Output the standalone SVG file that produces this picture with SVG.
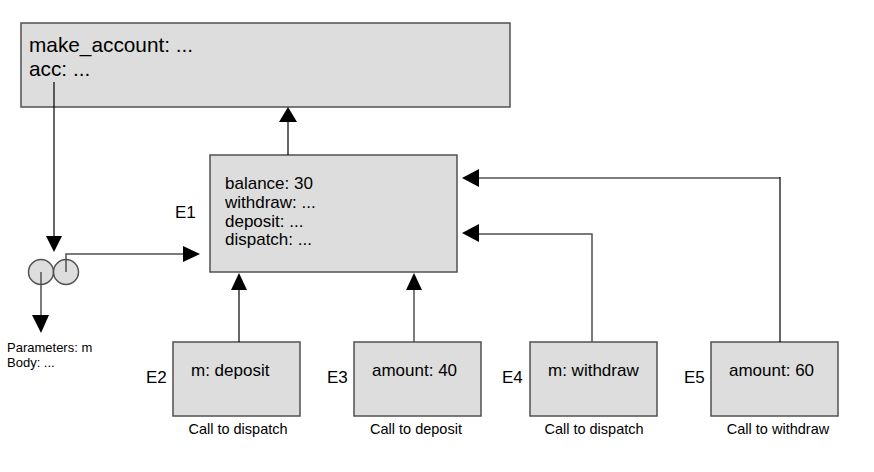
<svg xmlns="http://www.w3.org/2000/svg" width="874" height="472" viewBox="0 0 874 472">
<defs>
<style>
text{font-family:"Liberation Sans",Arial,sans-serif;fill:#000}
.box{fill:#dddddd;stroke:#505050;stroke-width:1.5}
.ln{fill:none;stroke:#000;stroke-width:1.2}
.lg{fill:none;stroke:#505050;stroke-width:1.5}
.ah{fill:#000;stroke:none}
.big{font-size:20.8px}
.mid{font-size:17px}
.sm{font-size:14.5px}
.xs{font-size:13px}
</style>
</defs>
<rect width="874" height="472" fill="#fff"/>
<g id="global">
<rect class="box" x="21" y="23" width="489" height="84"/>
<text class="big" x="29" y="52">make_account: ...</text>
<text class="big" x="29" y="76">acc: ...</text>
</g>
<g id="E1">
<rect class="box" x="210" y="155" width="247" height="117"/>
<text class="mid" x="225" y="189">balance: 30</text>
<text class="mid" x="225" y="208">withdraw: ...</text>
<text class="mid" x="225" y="227">deposit: ...</text>
<text class="mid" x="225" y="245">dispatch: ...</text>
<text class="mid" x="175" y="218">E1</text>
</g>
<g id="func">
<circle cx="41" cy="272" r="12.5" fill="#dddddd" stroke="#505050" stroke-width="1.5"/>
<circle cx="66" cy="272" r="12.5" fill="#dddddd" stroke="#505050" stroke-width="1.5"/>
<text class="xs" x="7" y="352">Parameters: m</text>
<text class="xs" x="7" y="367">Body: ...</text>
</g>
<g id="E2">
<rect class="box" x="173" y="342" width="127" height="74"/>
<text class="mid" x="191" y="376">m: deposit</text>
<text class="mid" x="146" y="383">E2</text>
<text class="sm" x="238" y="434" text-anchor="middle">Call to dispatch</text>
</g>
<g id="E3">
<rect class="box" x="354" y="342" width="127" height="74"/>
<text class="mid" x="372" y="376">amount: 40</text>
<text class="mid" x="327" y="383">E3</text>
<text class="sm" x="416" y="434" text-anchor="middle">Call to deposit</text>
</g>
<g id="E4">
<rect class="box" x="530" y="342" width="127" height="74"/>
<text class="mid" x="548" y="376">m: withdraw</text>
<text class="mid" x="502" y="383">E4</text>
<text class="sm" x="594" y="434" text-anchor="middle">Call to dispatch</text>
</g>
<g id="E5">
<rect class="box" x="711" y="342" width="127" height="74"/>
<text class="mid" x="729" y="376">amount: 60</text>
<text class="mid" x="684" y="383">E5</text>
<text class="sm" x="778" y="434" text-anchor="middle">Call to withdraw</text>
</g>
<g id="connectors">
<path class="ln" d="M288 155V121"/>
<polygon class="ah" points="288,107 279,122 297,122"/>
<path class="ln" d="M54 82V237"/>
<polygon class="ah" points="54,252 46,236 62,236"/>
<path class="lg" d="M66 272V254H184"/>
<polygon class="ah" points="200,254 183,246 183,262"/>
<path class="lg" d="M41 272V316"/>
<polygon class="ah" points="41,333 32,315 49,315"/>
<path class="ln" d="M239 342V289"/>
<polygon class="ah" points="239,273 231,290 247,290"/>
<path class="lg" d="M414 342V289"/>
<polygon class="ah" points="414,273 406,290 422,290"/>
<path class="lg" d="M592 342V234H478"/>
<polygon class="ah" points="462,233 479,224 479,242"/>
<path class="ln" d="M780 342V177M780 178H478"/>
<polygon class="ah" points="462,178 479,169 479,187"/>
</g>
</svg>
